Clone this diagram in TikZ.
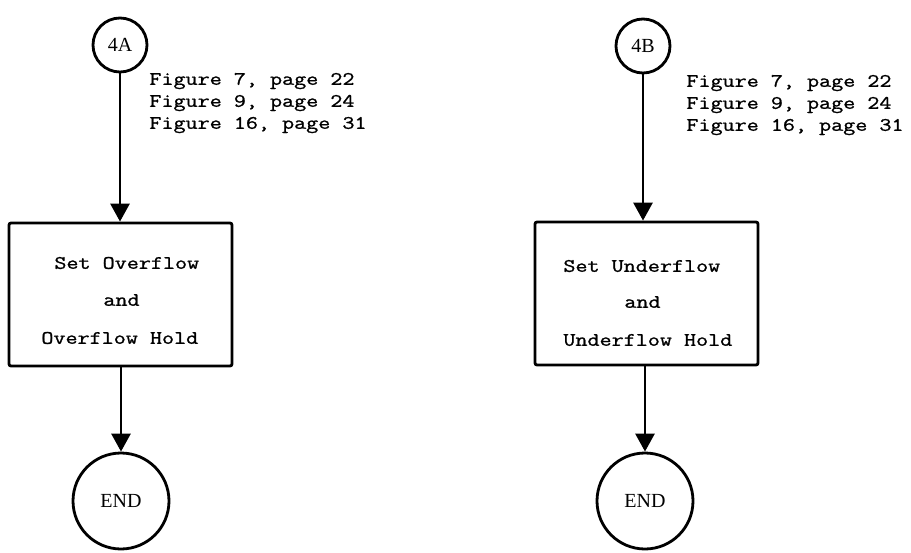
\documentclass[tikz,border=0pt]{standalone}
\usepackage{fontspec}
\usepackage{graphicx}
\usetikzlibrary{arrows.meta}
% wide typewriter lettering, slightly heavier than the default mono
\newfontfamily\typefont[FakeBold=1]{Latin Modern Mono}
\newfontfamily\labelfont{Liberation Serif}
\newcommand{\tw}[1]{\scalebox{1.233}[1]{\fontsize{19}{22}\selectfont\typefont #1}}
\newcommand{\lbltext}[1]{{\labelfont\fontsize{20}{22}\selectfont #1}}
\begin{document}
\begin{tikzpicture}[x=1pt,y=-1pt,line width=2.8pt,
  conn/.style={-{Triangle[width=19pt,length=18pt]}},
  term/.style={draw,circle,inner sep=0pt,minimum size=#1},
  procbox/.style={draw,rectangle,rounded corners=2pt,minimum width=223pt,minimum height=143pt,inner sep=0pt},
  typed/.style={inner sep=0pt,anchor=west}]
\useasboundingbox (0,0) rectangle (911,552);

% ---- left column: overflow ----
\node[term=54pt] (c4a) at (120,45) {\lbltext{4A}};
\node[typed,anchor=north west] (refa) at (148,68)
  {\tw{\begin{tabular}{@{}l@{}}Figure 7, page 22\\Figure 9, page 24\\Figure 16, page 31\end{tabular}}};
\node[procbox] (boxa) at (120.5,294.5) {};
\node[typed] (ta1) at (53,263) {\tw{Set Overflow}};
\node[typed] (ta2) at (102,300) {\tw{and}};
\node[typed] (ta3) at (40,338) {\tw{Overflow Hold}};
\node[term=96pt] (enda) at (121,501) {\lbltext{END}};

\draw[conn] (c4a.south) -- (c4a.south |- boxa.north);
\draw[conn] (boxa.south -| enda.north) -- (enda.north);

% ---- right column: underflow ----
\node[term=54pt] (c4b) at (643,46) {\lbltext{4B}};
\node[typed,anchor=north west] (refb) at (685,70)
  {\tw{\begin{tabular}{@{}l@{}}Figure 7, page 22\\Figure 9, page 24\\Figure 16, page 31\end{tabular}}};
\node[procbox] (boxb) at (646.5,293.5) {};
\node[typed] (tb1) at (562,266) {\tw{Set Underflow}};
\node[typed] (tb2) at (623,302) {\tw{and}};
\node[typed] (tb3) at (562,340) {\tw{Underflow Hold}};
\node[term=96pt] (endb) at (645,501) {\lbltext{END}};

\draw[conn] (c4b.south) -- (c4b.south |- boxb.north);
\draw[conn] (boxb.south -| endb.north) -- (endb.north);
\end{tikzpicture}
\end{document}
